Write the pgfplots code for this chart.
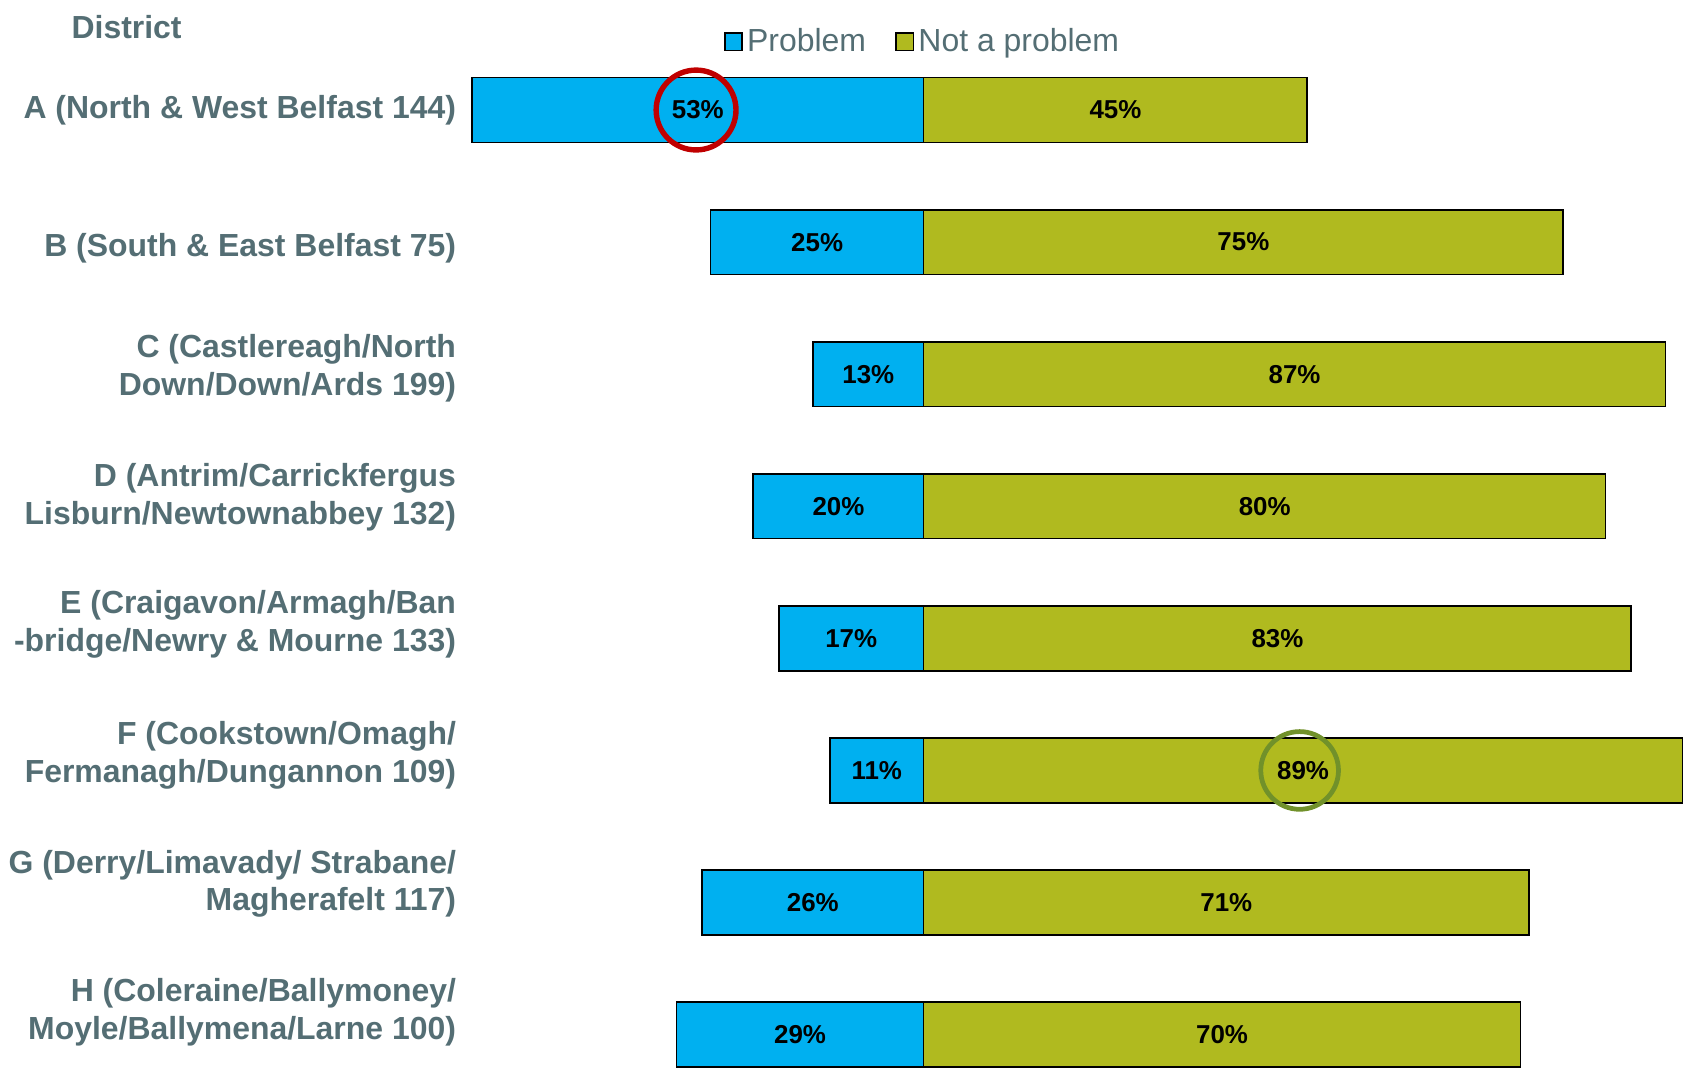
\documentclass[border=0pt]{standalone}
\usepackage{fontspec}
\setmainfont{Liberation Sans}
\usepackage{pgfplots}
\pgfplotsset{compat=1.18}
\definecolor{probblue}{HTML}{00B0F0}
\definecolor{notolive}{HTML}{B0BA1F}
\definecolor{labelgray}{HTML}{546E74}
\definecolor{circred}{HTML}{C00000}
\definecolor{circgreen}{HTML}{71912A}
\begin{document}
\begin{tikzpicture}
\begin{axis}[
  name=ax,
  scale only axis,
  width=568.8pt, height=497.4pt,
  xmin=-54, xmax=90,
  ymin=-0.294, ymax=7.833,
  clip=false,
  axis line style={draw=none},
  major tick length=0pt,
  xtick=\empty,
  ytick={0,1,2,3,4,5,6,7},
  yticklabels={
    {H (Coleraine/Ballymoney/\\Moyle/Ballymena/Larne 100)\rule[-23.5pt]{0pt}{0pt}},
    {G (Derry/Limavady/ Strabane/\\Magherafelt 117)\rule[-20.5pt]{0pt}{0pt}},
    {F (Cookstown/Omagh/\\Fermanagh/Dungannon 109)\rule[-17.5pt]{0pt}{0pt}},
    {E (Craigavon/Armagh/Ban\\-bridge/Newry \& Mourne 133)\rule[-16.5pt]{0pt}{0pt}},
    {D (Antrim/Carrickfergus\\Lisburn/Newtownabbey 132)\rule[-11.5pt]{0pt}{0pt}},
    {C (Castlereagh/North\\Down/Down/Ards 199)\rule[-8.5pt]{0pt}{0pt}},
    {\raisebox{-3pt}[\height][\depth]{B (South \& East Belfast 75)}},
    {A (North \& West Belfast 144)}},
  yticklabel style={align=right, inner sep=0pt, xshift=-3.2pt,
    font=\fontsize{14.8}{17.5}\selectfont\bfseries, text=labelgray},
  legend columns=2,
  legend style={at={(0.375,0.961)}, anchor=center, draw=none, fill=none,
    font=\fontsize{14.8}{17.5}\selectfont, text=labelgray,
    /tikz/every even column/.append style={column sep=11.5pt},
    inner sep=0pt},
]
\addplot[xbar, bar shift=0pt, bar width=30pt, fill=probblue, draw=black, line width=0.75pt,
  legend image code/.code={\draw[fill=probblue,draw=black,line width=0.75pt] (0pt,-4pt) rectangle (8pt,4pt);}]
  coordinates {(-29,0) (-26,1) (-11,2) (-17,3) (-20,4) (-13,5) (-25,6) (-53,7)};
\addlegendentry{Problem}
\addplot[xbar, bar shift=0pt, bar width=30pt, fill=notolive, draw=black, line width=0.75pt,
  legend image code/.code={\draw[fill=notolive,draw=black,line width=0.75pt] (0pt,-4pt) rectangle (8pt,4pt);}]
  coordinates {(70,0) (71,1) (89,2) (83,3) (80,4) (87,5) (75,6) (45,7)};
\addlegendentry{Not a problem}
\addplot[forget plot, only marks, mark=none, point meta=explicit symbolic,
  nodes near coords={\pgfplotspointmeta},
  every node near coord/.append style={anchor=center, inner sep=0pt,
    font=\fontsize{12}{14}\selectfont\bfseries, text=black}]
  coordinates {
    (-14.5,0) [29\%] (-13,1) [26\%] (-5.5,2) [11\%] (-8.5,3) [17\%]
    (-10,4) [20\%] (-6.5,5) [13\%] (-12.5,6) [25\%] (-26.5,7) [53\%]
    (35,0) [70\%] (35.5,1) [71\%] (44.5,2) [89\%] (41.5,3) [83\%]
    (40,4) [80\%] (43.5,5) [87\%] (37.5,6) [75\%] (22.5,7) [45\%]
  };
\draw[circred, line width=2.5pt] (axis cs:-26.7,7) circle[radius=18.5pt];
\draw[circgreen, line width=2.2pt] (axis cs:44.1,2) circle[radius=18pt];
\node[font=\fontsize{14.8}{17.5}\selectfont\bfseries, text=labelgray, anchor=center]
  at (axis cs:-93.5,7.629) {District};
\end{axis}
\pgfresetboundingbox
\path ([xshift=-214.7pt,yshift=-0.1pt]ax.south west) rectangle ([xshift=0.5pt]ax.north east);
\end{tikzpicture}
\end{document}
